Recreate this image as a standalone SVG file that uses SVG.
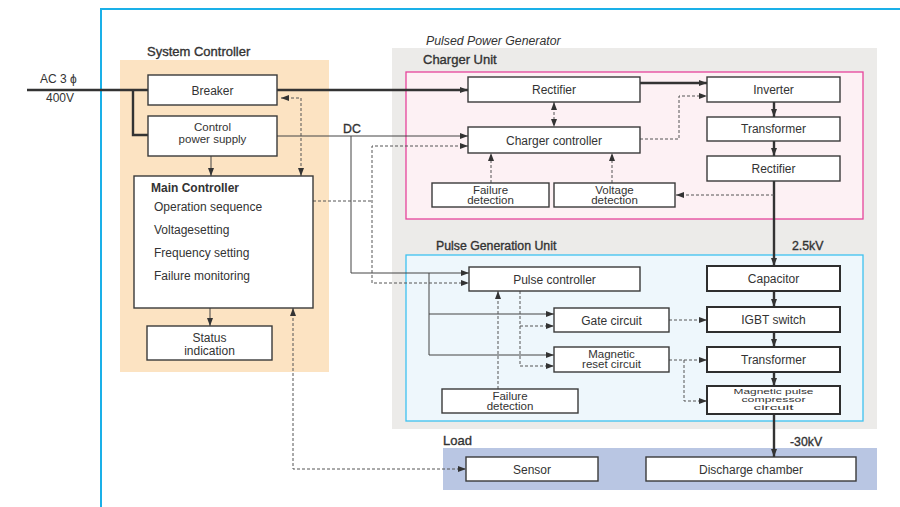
<svg xmlns="http://www.w3.org/2000/svg" width="900" height="507" viewBox="0 0 900 507">
  <style>
    text { font-family: "Liberation Sans", Arial, sans-serif; font-size: 12px; fill: #333; }
    .c { text-anchor: middle; }
    .hd { stroke: #333; stroke-width: 0.35; font-size: 13px; }
    .hd2 { stroke: #333; stroke-width: 0.35; font-size: 12.3px; }
    .bold { font-weight: bold; }
    .it { font-style: italic; font-size: 12.3px; }
    .two { font-size: 11.5px; }
    .box { fill: #fff; stroke: #3a3a3a; stroke-width: 1.4; }
    .box2 { fill: #fff; stroke: #2e2e2e; stroke-width: 2; }
    .thick { fill: none; stroke: #333; stroke-width: 2.4; }
    .thin { fill: none; stroke: #444; stroke-width: 1; }
    .dash { fill: none; stroke: #555; stroke-width: 1; stroke-dasharray: 3 2; }
    .small { font-size: 7px; }
  </style>
  <defs>
    <marker id="ah" markerUnits="userSpaceOnUse" markerWidth="8" markerHeight="6" refX="8" refY="3" orient="auto-start-reverse">
      <path d="M0,0 L8,3 L0,6 Z" fill="#333"/>
    </marker>
  </defs>

  <!-- frame -->
  <path d="M101,507 V9 H900" fill="none" stroke="#1ab0e8" stroke-width="2"/>

  <!-- group backgrounds -->
  <g id="system-controller">
    <rect x="120" y="60" width="209" height="312" fill="#fce3c2"/>
    <text class="hd" x="147" y="56">System Controller</text>
  </g>
  <g id="pulsed-power-generator">
    <rect x="392" y="48" width="485" height="381" fill="#ecebe9"/>
    <text class="it" x="426" y="45">Pulsed Power Generator</text>
  </g>
  <g id="charger-unit">
    <rect x="406" y="72" width="457" height="147" fill="#fdf1f4" stroke="#e6449b" stroke-width="1.3"/>
    <text class="hd" x="423" y="64">Charger Unit</text>
  </g>
  <g id="pulse-generation-unit">
    <rect x="406" y="255" width="457" height="166" fill="#eef7fc" stroke="#3ec2f0" stroke-width="1.3"/>
    <text class="hd2" x="436" y="250">Pulse Generation Unit</text>
  </g>
  <g id="load">
    <rect x="443" y="448" width="434" height="42" fill="#b9c6e3"/>
    <text class="hd" x="443" y="445">Load</text>
  </g>

  <!-- input -->
  <g id="ac-input">
    <text x="40" y="83">AC 3 ϕ</text>
    <text x="46" y="102">400V</text>
  </g>

  <!-- connectors -->
  <g id="connectors">
    <!-- power path -->
    <path class="thick" d="M27,90 H148"/>
    <path class="thick" d="M133,90 V135 H148"/>
    <path class="thick" d="M277,90 H468" marker-end="url(#ah)"/>
    <path class="thick" d="M640,83 H707" marker-end="url(#ah)"/>
    <path class="thick" d="M774,102 V117" marker-end="url(#ah)"/>
    <path class="thick" d="M774,141 V156" marker-end="url(#ah)"/>
    <path class="thick" d="M774,181 V266" marker-end="url(#ah)"/>
    <path class="thick" d="M774,291 V307" marker-end="url(#ah)"/>
    <path class="thick" d="M774,332 V347" marker-end="url(#ah)"/>
    <path class="thick" d="M774,372 V386" marker-end="url(#ah)"/>
    <path class="thick" d="M774,414 V457" marker-end="url(#ah)"/>

    <!-- DC supply -->
    <path class="thin" d="M277,136 H468" marker-end="url(#ah)"/>
    <path class="thin" d="M351,136 V273 H469" marker-end="url(#ah)"/>
    <path class="thin" d="M429,273 V355 H554" marker-end="url(#ah)"/>
    <path class="thin" d="M429,314 H554" marker-end="url(#ah)"/>
    <path class="thin" d="M211,156 V176" marker-end="url(#ah)"/>
    <path class="thin" d="M210,308 V326" marker-end="url(#ah)"/>

    <!-- control signals -->
    <path class="dash" d="M313,201 H372"/>
    <path class="dash" d="M468,146 H372 V283 H469" marker-start="url(#ah)" marker-end="url(#ah)"/>
    <path class="dash" d="M281,98 H301 V176" marker-start="url(#ah)" marker-end="url(#ah)"/>
    <path class="dash" d="M554,102 V127" marker-start="url(#ah)" marker-end="url(#ah)"/>
    <path class="dash" d="M491,183 V153" marker-end="url(#ah)"/>
    <path class="dash" d="M612,183 V153" marker-end="url(#ah)"/>
    <path class="dash" d="M640,139 H679 V96 H707" marker-end="url(#ah)"/>
    <path class="dash" d="M774,195 H676" marker-end="url(#ah)"/>
    <path class="dash" d="M520,291 V366 H554" marker-end="url(#ah)"/>
    <path class="dash" d="M520,326 H554" marker-end="url(#ah)"/>
    <path class="dash" d="M498,389 V291" marker-end="url(#ah)"/>
    <path class="dash" d="M669,320 H707" marker-end="url(#ah)"/>
    <path class="dash" d="M669,360 H707" marker-end="url(#ah)"/>
    <path class="dash" d="M684,360 V401 H707" marker-end="url(#ah)"/>
    <path class="dash" d="M293,308 V469 H466" marker-start="url(#ah)" marker-end="url(#ah)"/>
  </g>

  <!-- labels on lines -->
  <text class="hd2" x="343" y="133">DC</text>
  <text class="hd2" x="792" y="250">2.5kV</text>
  <text class="hd2" x="790" y="446">-30kV</text>

  <!-- system controller nodes -->
  <g id="breaker">
    <rect class="box" x="148" y="75" width="129" height="30"/>
    <text class="c" x="212.5" y="94.5">Breaker</text>
  </g>
  <g id="control-power-supply">
    <rect class="box" x="148" y="116" width="129" height="40"/>
    <text class="c two" x="212.5" y="130.5">Control</text>
    <text class="c two" x="212.5" y="143">power supply</text>
  </g>
  <g id="main-controller">
    <rect class="box" x="134" y="176" width="179" height="132"/>
    <text class="bold" x="151" y="192">Main Controller</text>
    <text x="154" y="211">Operation sequence</text>
    <text x="154" y="234">Voltagesetting</text>
    <text x="154" y="257">Frequency setting</text>
    <text x="154" y="280">Failure monitoring</text>
  </g>
  <g id="status-indication">
    <rect class="box" x="147" y="326" width="125" height="34"/>
    <text class="c" x="209.5" y="342">Status</text>
    <text class="c" x="209.5" y="355">indication</text>
  </g>

  <!-- charger unit nodes -->
  <g id="rectifier-in">
    <rect class="box" x="468" y="77" width="172" height="25"/>
    <text class="c" x="554" y="94">Rectifier</text>
  </g>
  <g id="charger-controller">
    <rect class="box" x="468" y="127" width="172" height="26"/>
    <text class="c" x="554" y="144.5">Charger controller</text>
  </g>
  <g id="charger-failure-detection">
    <rect class="box" x="432" y="183" width="117" height="24"/>
    <text class="c two" x="490.5" y="193.5">Failure</text>
    <text class="c two" x="490.5" y="204">detection</text>
  </g>
  <g id="voltage-detection">
    <rect class="box" x="554" y="183" width="121" height="24"/>
    <text class="c two" x="614.5" y="193.5">Voltage</text>
    <text class="c two" x="614.5" y="204">detection</text>
  </g>
  <g id="inverter">
    <rect class="box" x="707" y="77" width="133" height="25"/>
    <text class="c" x="773.5" y="93.5">Inverter</text>
  </g>
  <g id="charger-transformer">
    <rect class="box" x="707" y="117" width="133" height="24"/>
    <text class="c" x="773.5" y="133">Transformer</text>
  </g>
  <g id="rectifier-out">
    <rect class="box" x="707" y="156" width="133" height="25"/>
    <text class="c" x="773.5" y="172.5">Rectifier</text>
  </g>

  <!-- pulse generation unit nodes -->
  <g id="pulse-controller">
    <rect class="box" x="469" y="267" width="171" height="24"/>
    <text class="c" x="554.5" y="283.5">Pulse controller</text>
  </g>
  <g id="gate-circuit">
    <rect class="box" x="554" y="308" width="115" height="24"/>
    <text class="c" x="611.5" y="324.5">Gate circuit</text>
  </g>
  <g id="magnetic-reset-circuit">
    <rect class="box" x="554" y="347" width="115" height="25"/>
    <text class="c two" x="611.5" y="357.5">Magnetic</text>
    <text class="c two" x="611.5" y="368">reset circuit</text>
  </g>
  <g id="pulse-failure-detection">
    <rect class="box" x="442" y="389" width="136" height="24"/>
    <text class="c two" x="510" y="399.5">Failure</text>
    <text class="c two" x="510" y="410">detection</text>
  </g>
  <g id="capacitor">
    <rect class="box2" x="707" y="266" width="133" height="25"/>
    <text class="c" x="773.5" y="283">Capacitor</text>
  </g>
  <g id="igbt-switch">
    <rect class="box2" x="707" y="307" width="133" height="25"/>
    <text class="c" x="773.5" y="324">IGBT switch</text>
  </g>
  <g id="pulse-transformer">
    <rect class="box2" x="707" y="347" width="133" height="25"/>
    <text class="c" x="773.5" y="364">Transformer</text>
  </g>
  <g id="magnetic-pulse-compressor">
    <rect class="box2" x="707" y="386" width="133" height="28"/>
    <text class="c small" x="773.5" y="394" textLength="80" lengthAdjust="spacingAndGlyphs">Magnetic pulse</text>
    <text class="c small" x="773.5" y="402" textLength="64" lengthAdjust="spacingAndGlyphs">compressor</text>
    <text class="c small" x="773.5" y="410" textLength="40" lengthAdjust="spacingAndGlyphs">circuit</text>
  </g>

  <!-- load nodes -->
  <g id="sensor">
    <rect class="box" x="466" y="457" width="132" height="24"/>
    <text class="c" x="532" y="473.5">Sensor</text>
  </g>
  <g id="discharge-chamber">
    <rect class="box" x="646" y="457" width="210" height="24"/>
    <text class="c" x="751" y="473.5">Discharge chamber</text>
  </g>
</svg>
